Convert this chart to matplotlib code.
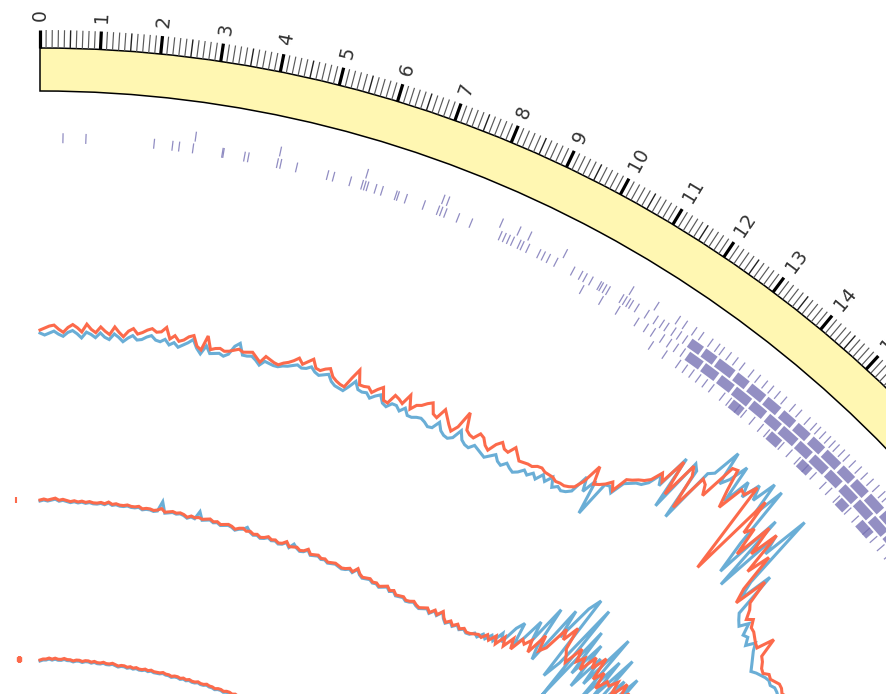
import numpy as np
import matplotlib
matplotlib.use("Agg")
import matplotlib.pyplot as plt

# ---------------- data ----------------
TICK_LABELS = ["0", "1", "2", "3", "4", "5", "6", "7", "8", "9", "10",
               "11", "12", "13", "14", "15"]

STEP = 0.1  # position step (genome units) of the line tracks

T1_RED = [
    41, 43, 45, 46, 42, 39, 44, 47, 44, 40,
    48, 43, 40, 46, 42, 39, 47, 42, 38, 44,
    47, 42, 44, 47, 49, 46, 47, 52, 41, 45,
    40, 42, 46, 48, 38, 35, 50, 37, 39, 40,
    38, 39, 41, 43, 41, 42, 43, 39, 35, 42,
    40, 38, 37, 40, 42, 45, 49, 44, 48, 52,
    44, 43, 46, 48, 41, 38, 36, 35, 46, 56,
    42, 42, 43, 39, 44, 48, 36, 35, 45, 43,
    40, 51, 38, 44, 46, 50, 53, 43, 41, 52,
    46, 40, 35, 42, 60, 43, 40, 39, 46, 44,
    38, 35, 44, 49, 44, 43, 51, 46, 41, 42,
    43, 43, 46, 47, 45, 45, 45, 43, 44, 44,
    46, 49, 59, 80, 62, 65, 69, 75, 68, 85,
    88, 92, 95, 100, 112, 105, 134, 97, 137, 128,
    92, 133, 130, 120, 160, 162, 140, 122, 150, 148,
    162, 110, 63, 157, 120, 130, 100, 141, 110, 141,
    95, 120, 80, 65, 100, 75, 70, 61, 66, 59,
    58, 55, 52, 50, 68, 48, 45, 40, 38, 42,
    40, 42, 44, 43, 40, 42, 41, 43, 40, 42,
    44]

T1_BLUE = [
    38, 36, 38, 40, 37, 35, 39, 41, 38, 34,
    40, 38, 35, 40, 36, 34, 40, 37, 33, 37,
    40, 36, 37, 40, 42, 38, 37, 40, 35, 38,
    34, 37, 40, 44, 36, 31, 40, 33, 34, 35,
    33, 36, 45, 49, 38, 38, 39, 36, 32, 37,
    36, 35, 35, 37, 38, 40, 42, 40, 41, 44,
    40, 38, 40, 42, 36, 33, 32, 31, 37, 44,
    37, 36, 37, 33, 37, 40, 33, 31, 36, 36,
    32, 37, 31, 31, 33, 34, 32, 29, 30, 38,
    31, 28, 27, 30, 40, 32, 29, 28, 33, 31,
    29, 27, 31, 35, 30, 28, 33, 30, 28, 31,
    36, 33, 38, 34, 42, 37, 45, 36, 40, 38,
    40, 44, 64, 50, 66, 30, 68, 70, 65, 80,
    84, 88, 90, 96, 110, 100, 138, 82, 140, 135,
    80, 140, 145, 175, 140, 150, 170, 130, 160, 145,
    165, 150, 176, 140, 175, 110, 76, 150, 67, 140,
    120, 170, 90, 70, 107, 60, 55, 51, 60, 48,
    50, 43, 52, 45, 40, 35, 30, 33, 35, 37,
    38, 36, 38, 37, 35, 37, 36, 38, 36, 37,
    38]

T2_RED = [
    71, 72, 71, 72, 73, 71, 72, 71, 70, 71,
    70, 71, 70, 71, 70, 70, 71, 70, 72, 70,
    71, 70, 70, 71, 70, 70, 71, 69, 70, 70,
    69, 70, 72, 69, 70, 71, 70, 71, 70, 68,
    70, 69, 70, 69, 70, 71, 69, 70, 68, 69,
    70, 69, 67, 69, 70, 68, 69, 67, 68, 66,
    67, 69, 67, 68, 66, 67, 70, 66, 67, 68,
    66, 67, 70, 66, 67, 68, 66, 67, 65, 66,
    67, 66, 65, 66, 68, 66, 71, 67, 65, 66,
    67, 65, 66, 64, 66, 68, 65, 67, 64, 65,
    66, 64, 65, 67, 65, 64, 66, 68, 65, 70,
    67, 73, 68, 65, 69, 66, 70, 67, 70, 68,
    69, 71, 73, 72, 78, 74, 82, 75, 86, 78,
    90, 80, 95, 92, 100, 88, 112, 96, 103, 130,
    120, 138, 115, 110, 104, 125, 112, 120, 108, 128,
    117, 134, 110, 122, 105, 118, 116, 125, 110, 130,
    115, 125, 108, 120, 110, 115]

T2_BLUE = [
    70, 71, 70, 71, 72, 70, 71, 70, 69, 70,
    69, 70, 69, 70, 69, 69, 70, 69, 71, 69,
    70, 69, 69, 70, 69, 69, 70, 68, 69, 69,
    68, 69, 79, 68, 69, 70, 69, 70, 69, 67,
    69, 68, 76, 68, 69, 70, 68, 69, 67, 68,
    69, 68, 66, 68, 69, 72, 68, 66, 67, 65,
    66, 68, 66, 67, 65, 66, 69, 65, 70, 67,
    65, 66, 69, 65, 66, 67, 65, 66, 64, 65,
    66, 65, 64, 65, 67, 65, 70, 66, 64, 65,
    66, 64, 65, 63, 65, 67, 64, 66, 63, 64,
    65, 63, 64, 66, 64, 63, 65, 67, 64, 69,
    66, 72, 67, 64, 68, 65, 69, 66, 69, 67,
    68, 72, 70, 76, 73, 80, 76, 88, 80, 100,
    109, 85, 96, 120, 100, 142, 98, 85, 150, 120,
    160, 174, 80, 100, 171, 64, 150, 100, 140, 90,
    130, 100, 162, 85, 140, 95, 150, 80, 130, 95,
    140, 90, 125, 100, 130, 110]

T3_RED = [
    11, 12, 12, 13, 12, 13, 12, 12, 13, 12,
    12, 11, 12, 12, 11, 12, 12, 11, 12, 11,
    11, 12, 11, 11, 12, 11, 10, 11, 11, 10,
    11, 10, 11, 10, 10, 11, 10, 11, 10, 10,
    10, 11, 10, 10, 9, 10, 10, 9, 10, 9,
    10, 9, 9, 10, 9, 9, 10, 9, 9, 8,
    9, 9, 8, 9, 9, 8, 9, 8, 9, 8,
    8, 9, 8, 8, 9, 8, 8, 9, 8, 8,
    8]

T3_BLUE = [
    10, 11, 11, 12, 11, 12, 11, 11, 12, 11,
    11, 10, 11, 11, 10, 11, 11, 10, 11, 10,
    10, 11, 10, 10, 11, 10, 9, 10, 10, 9,
    10, 9, 10, 9, 9, 10, 9, 10, 9, 9,
    9, 10, 9, 9, 8, 9, 9, 8, 9, 8,
    9, 8, 8, 9, 8, 8, 9, 8, 8, 7,
    8, 8, 7, 8, 8, 7, 8, 7, 8, 7,
    7, 8, 7, 7, 8, 7, 7, 8, 7, 7,
    7]

# end points of the previous sequence (negative positions)
PREV_POS = [-0.64, -0.70]
PREV_VAL_T2 = 71
PREV_VAL_T3 = 12

# feature tiles (positions) per tile row
TILES_A = [2.76, 4.28, 5.86, 7.28, 7.37, 8.39, 8.73, 8.94, 9.64, 10.98, 11.5,
           11.95, 12.1, 12.3, 12.45, 12.65, 12.8, 12.9, 13.05, 13.2, 13.35,
           13.55, 13.7, 13.86, 14.0, 14.15, 14.3, 14.5, 14.65, 14.85, 15.0,
           15.1, 15.22, 15.34, 15.45, 15.55, 15.68, 15.8, 15.95, 16.1, 16.25,
           16.4, 16.55, 16.7, 16.8, 16.95, 17.1, 17.3, 17.5]
TILES_B = [0.41, 0.82, 2.04, 2.37, 2.49, 2.74, 3.27, 3.29, 3.67, 3.74, 4.27,
           4.33, 4.62, 5.19, 5.30, 5.61, 5.83, 5.88, 5.93, 6.08, 6.20, 6.46,
           6.50, 6.65, 6.99, 7.26, 7.32, 7.40, 7.64, 7.89, 8.46, 8.54, 8.62,
           8.70, 8.83, 8.89, 9.00, 9.22, 9.31, 9.41, 9.56, 9.90, 10.06, 10.15,
           10.27, 10.44, 10.48, 10.55, 10.62, 10.90, 10.97, 11.04, 11.10,
           11.22, 11.43, 11.62, 11.75, 11.85, 12.0, 12.12, 12.25]
TILES_C = [10.2, 10.6, 10.95, 11.35, 11.55, 11.7, 11.9, 12.05, 12.2, 12.35]
TILES_D = [11.8, 12.1, 12.4, 12.55, 12.7, 12.85, 13.0, 13.15, 13.4, 13.55,
           13.75, 13.9, 14.1, 14.3, 14.45, 14.8, 15.0, 15.2, 15.4, 15.6, 15.85,
           16.0, 16.2, 16.5, 16.7, 17.0, 17.2, 17.4, 17.6]
# dense clusters (start, end) per row
DENSE_B = [(12.35, 12.6), (12.65, 12.9), (12.95, 13.3), (13.36, 13.62),
           (13.68, 14.0), (14.05, 14.35), (14.42, 14.7), (14.76, 15.05),
           (15.12, 15.4), (15.46, 15.8), (15.86, 16.15), (16.2, 16.5),
           (16.56, 16.9), (16.96, 17.3), (17.36, 17.7)]
DENSE_C = [(12.45, 12.75), (12.8, 13.1), (13.16, 13.45), (13.5, 13.85),
           (13.9, 14.2), (14.27, 14.55), (14.6, 14.95), (15.0, 15.3),
           (15.36, 15.7), (15.75, 16.05), (16.12, 16.45), (16.5, 16.85),
           (16.9, 17.25), (17.3, 17.7), (17.75, 18.0)]
DENSE_D = [(13.6, 13.85), (14.5, 14.75), (15.25, 15.5), (16.25, 16.45),
           (16.8, 17.1)]

# ---------------- layout ----------------
W, H, DPI = 886, 694, 100
CX, CY = 40, 1271          # circle centre in pixels (from top-left)
RMAX = 1300
DEG_PER_UNIT = 2.833

IDEO_IN, IDEO_OUT = 1180, 1223
TICK_OUT = 1241
LABEL_R = 1250
ROW_R = {"A": 1145, "B": 1133, "C": 1121, "D": 1109}
TILE_H = 10
T1_BASE, T2_BASE, T3_BASE = 900, 700, 600

RED = "#fc6a4b"
BLUE = "#6aaed6"
PURPLE = "#7570b3"
IDEO = "#fff7b2"

fig = plt.figure(figsize=(W / DPI, H / DPI), dpi=DPI)
ax = fig.add_axes([(CX - RMAX) / W, (H - CY - RMAX) / H, 2 * RMAX / W, 2 * RMAX / H],
                  projection="polar")
ax.set_theta_zero_location("N")
ax.set_theta_direction(-1)
ax.set_ylim(0, RMAX)
ax.axis("off")


def th(u):
    return np.deg2rad(np.asarray(u, dtype=float) * DEG_PER_UNIT)


# ideogram
ax.bar(th(0), IDEO_OUT - IDEO_IN, width=th(40), bottom=IDEO_IN, align="edge",
       color=IDEO, edgecolor="black", linewidth=1.1, zorder=2)

# ticks
tick_u = np.round(np.arange(0, 20.001, 0.1), 1)
minor = [u for u in tick_u if abs(u * 10 % 10) > 1e-6 and abs(u * 10 % 10 - 5) > 1e-6]
half = [u for u in tick_u if abs(u * 10 % 10 - 5) < 1e-6]
major = [u for u in tick_u if abs(u * 10 % 10) < 1e-6]
ax.vlines(th(minor), IDEO_OUT, TICK_OUT, colors="#5a5a5a", linewidth=0.85, zorder=3)
ax.vlines(th(half), IDEO_OUT, TICK_OUT, colors="#222222", linewidth=1.0, zorder=3)
ax.vlines(th(major), IDEO_OUT, TICK_OUT, colors="black", linewidth=2.3, zorder=3)
for i, lab in enumerate(TICK_LABELS):
    ang = i * DEG_PER_UNIT
    ax.text(th(i), LABEL_R, lab, rotation=90 - ang, rotation_mode="anchor",
            ha="left", va="center", fontsize=13.5, color="#333333")

# tiles
for key, tiles in (("A", TILES_A), ("B", TILES_B), ("C", TILES_C), ("D", TILES_D)):
    r = ROW_R[key]
    ax.vlines(th(tiles), r - TILE_H / 2, r + TILE_H / 2, colors=PURPLE,
              linewidth=0.9, alpha=0.8, zorder=3)
for key, blocks in (("B", DENSE_B), ("C", DENSE_C), ("D", DENSE_D)):
    r = ROW_R[key]
    for s, e in blocks:
        ax.bar(th(s), TILE_H, width=th(e - s), bottom=r - TILE_H / 2, align="edge",
               color=PURPLE, alpha=0.78, linewidth=0, zorder=3)

# line tracks
for base, blue, red in ((T1_BASE, T1_BLUE, T1_RED),
                        (T2_BASE, T2_BLUE, T2_RED),
                        (T3_BASE, T3_BLUE, T3_RED)):
    ub = np.arange(len(blue)) * STEP
    ur = np.arange(len(red)) * STEP
    ax.plot(th(ub), base + np.asarray(blue), color=BLUE, linewidth=2.2,
            solid_joinstyle="miter", zorder=4)
    ax.plot(th(ur), base + np.asarray(red), color=RED, linewidth=2.2,
            solid_joinstyle="miter", zorder=5)

ax.plot(th([PREV_POS[0]]), [T2_BASE + PREV_VAL_T2], marker="|", ms=4, mew=1.5,
        color=RED, zorder=5)
ax.plot(th([PREV_POS[1]]), [T3_BASE + PREV_VAL_T3], marker="s", ms=2.5,
        color=RED, zorder=5, linestyle="none")

fig.savefig("out.png", dpi=DPI)
